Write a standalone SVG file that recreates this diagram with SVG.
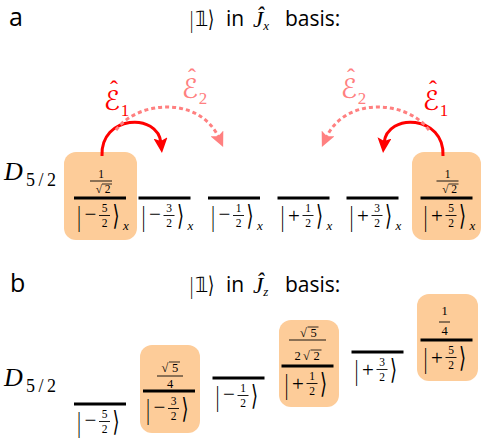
<svg xmlns="http://www.w3.org/2000/svg" width="482" height="447" viewBox="0 0 482 447">
<style>
text{font-family:'Liberation Serif','Times New Roman',serif;fill:#000}
.lvl{stroke:#000;stroke-width:3}
.box{fill:#FDCC99}
.bar{font-size:18px;text-anchor:middle}
.ang{font-family:'DejaVu Sans',sans-serif;font-size:18px;text-anchor:middle}
.sg{font-size:21px;text-anchor:middle}
.fr{font-size:11.5px;text-anchor:middle}
.nf{font-size:12.5px;text-anchor:middle}
.fb{stroke:#000;stroke-width:0.9}
.ov{stroke:#000;stroke-width:0.8}
.sub{font-size:13px;font-style:italic;text-anchor:middle}
.lab{font-family:'Open Sans',sans-serif;font-size:25px}
.tt{font-family:'Open Sans',sans-serif;font-size:21px}
.E{font-family:'DejaVu Serif','DejaVu Sans',serif;font-size:27px;text-anchor:middle}
.hat{font-size:24px;text-anchor:middle}
.Es{font-size:17px;text-anchor:middle}
.e1{fill:#FF0000}
.e2{fill:#FF8080}
</style>
<defs>
<marker id="hr" markerUnits="userSpaceOnUse" markerWidth="16" markerHeight="14" refX="5" refY="7" orient="auto" viewBox="0 0 16 14">
<path d="M0,0 L15,7 L0,14 L3,7 z" fill="#FF0000"/>
</marker>
<marker id="hp" markerUnits="userSpaceOnUse" markerWidth="16" markerHeight="14" refX="5" refY="7" orient="auto" viewBox="0 0 16 14">
<path d="M0,0 L15,7 L0,14 L3,7 z" fill="#FF8080"/>
</marker>
</defs>

<!-- panel labels and titles -->
<g id="label-a"><text class="lab" x="9" y="26">a</text></g>
<g id="title-a">
<text x="191.5" y="0" font-size="16" text-anchor="middle" transform="translate(0,27.5) scale(1,1.55)">|</text>
<text x="201.5" y="26" font-family="DejaVu Sans" font-size="21" text-anchor="middle">𝟙</text>
<text x="211" y="0" font-family="DejaVu Sans" font-size="16" text-anchor="middle" transform="translate(0,26.5) scale(1,1.45)">⟩</text>
<text class="tt" x="226" y="26">in</text>
<text x="253" y="27" font-size="23" font-style="italic">Ĵ<tspan font-size="13" dy="3">x</tspan></text>
<text class="tt" x="285" y="26">basis:</text>
</g>

<g id="label-b"><text class="lab" x="10" y="292">b</text></g>
<g id="title-b">
<text x="191.5" y="0" font-size="16" text-anchor="middle" transform="translate(0,293.5) scale(1,1.55)">|</text>
<text x="201.5" y="292" font-family="DejaVu Sans" font-size="21" text-anchor="middle">𝟙</text>
<text x="211" y="0" font-family="DejaVu Sans" font-size="16" text-anchor="middle" transform="translate(0,292.5) scale(1,1.45)">⟩</text>
<text class="tt" x="226" y="292">in</text>
<text x="253" y="293" font-size="23" font-style="italic">Ĵ<tspan font-size="13" dy="3">z</tspan></text>
<text class="tt" x="285" y="292">basis:</text>
</g>

<g id="D-a"><text x="4" y="180" font-size="26" font-style="italic">D</text><text x="26" y="186" font-size="18" textLength="30">5/2</text></g>
<g id="D-b"><text x="4" y="386" font-size="26" font-style="italic">D</text><text x="26" y="392" font-size="18" textLength="30">5/2</text></g>

<!-- panel a: Jx basis -->
<g id="ax-m52" transform="translate(100,198)">
<rect class="box" x="-36" y="-46" width="73" height="88" rx="12"/>
<text class="fr" x="1" y="-20">1</text>
<line class="fb" x1="-10" x2="12" y1="-17" y2="-17"/>
<text class="fr" x="-1" y="-5">√</text>
<line class="ov" x1="2" x2="12" y1="-14" y2="-14"/>
<text class="fr" x="7.5" y="-5">2</text>
<line class="lvl" x1="-26" x2="26"/>
<text class="bar" transform="translate(-21,27.5) scale(1,1.65)">|</text>
<text class="sg" x="-9.5" y="23">−</text>
<text class="fr" x="4.5" y="14">5</text><line class="fb" x1="-1" x2="10" y1="17.5" y2="17.5"/><text class="fr" x="4.5" y="28.5">2</text>
<text class="ang" transform="translate(16,27) scale(1,1.55)">⟩</text>
<text class="sub" x="26" y="32">x</text>
</g>
<g id="ax-m32" transform="translate(164.5,198)">
<line class="lvl" x1="-26" x2="26"/>
<text class="bar" transform="translate(-21,27.5) scale(1,1.65)">|</text>
<text class="sg" x="-9.5" y="23">−</text>
<text class="fr" x="4.5" y="14">3</text><line class="fb" x1="-1" x2="10" y1="17.5" y2="17.5"/><text class="fr" x="4.5" y="28.5">2</text>
<text class="ang" transform="translate(16,27) scale(1,1.55)">⟩</text>
<text class="sub" x="26" y="32">x</text>
</g>
<g id="ax-m12" transform="translate(234,198)">
<line class="lvl" x1="-26" x2="26"/>
<text class="bar" transform="translate(-21,27.5) scale(1,1.65)">|</text>
<text class="sg" x="-9.5" y="23">−</text>
<text class="fr" x="4.5" y="14">1</text><line class="fb" x1="-1" x2="10" y1="17.5" y2="17.5"/><text class="fr" x="4.5" y="28.5">2</text>
<text class="ang" transform="translate(16,27) scale(1,1.55)">⟩</text>
<text class="sub" x="26" y="32">x</text>
</g>
<g id="ax-p12" transform="translate(303.5,198)">
<line class="lvl" x1="-26" x2="26"/>
<text class="bar" transform="translate(-21,27.5) scale(1,1.65)">|</text>
<text class="sg" x="-9.5" y="24.5">+</text>
<text class="fr" x="4.5" y="14">1</text><line class="fb" x1="-1" x2="10" y1="17.5" y2="17.5"/><text class="fr" x="4.5" y="28.5">2</text>
<text class="ang" transform="translate(16,27) scale(1,1.55)">⟩</text>
<text class="sub" x="26" y="32">x</text>
</g>
<g id="ax-p32" transform="translate(372.5,198)">
<line class="lvl" x1="-26" x2="26"/>
<text class="bar" transform="translate(-21,27.5) scale(1,1.65)">|</text>
<text class="sg" x="-9.5" y="24.5">+</text>
<text class="fr" x="4.5" y="14">3</text><line class="fb" x1="-1" x2="10" y1="17.5" y2="17.5"/><text class="fr" x="4.5" y="28.5">2</text>
<text class="ang" transform="translate(16,27) scale(1,1.55)">⟩</text>
<text class="sub" x="26" y="32">x</text>
</g>
<g id="ax-p52" transform="translate(446.5,198)">
<rect class="box" x="-34.5" y="-46" width="69" height="88" rx="12"/>
<text class="fr" x="1" y="-20">1</text>
<line class="fb" x1="-10" x2="12" y1="-17" y2="-17"/>
<text class="fr" x="-1" y="-5">√</text>
<line class="ov" x1="2" x2="12" y1="-14" y2="-14"/>
<text class="fr" x="7.5" y="-5">2</text>
<line class="lvl" x1="-26" x2="26"/>
<text class="bar" transform="translate(-21,27.5) scale(1,1.65)">|</text>
<text class="sg" x="-9.5" y="24.5">+</text>
<text class="fr" x="4.5" y="14">5</text><line class="fb" x1="-1" x2="10" y1="17.5" y2="17.5"/><text class="fr" x="4.5" y="28.5">2</text>
<text class="ang" transform="translate(16,27) scale(1,1.55)">⟩</text>
<text class="sub" x="26" y="32">x</text>
</g>

<!-- connectors -->
<g id="connectors" fill="none" stroke-width="3">
<path d="M102,156 C100,115 158,112 161,143" stroke="#FF0000" marker-end="url(#hr)"/>
<path d="M443,156 C445,115 387,112 384,143" stroke="#FF0000" marker-end="url(#hr)"/>
<path d="M116,130 C138,100 200,96 219,138" stroke="#FF8080" stroke-dasharray="4 3" marker-end="url(#hp)"/>
<path d="M429,130 C407,100 345,96 326,138" stroke="#FF8080" stroke-dasharray="4 3" marker-end="url(#hp)"/>
</g>
<g id="E1-left"><text class="hat e1" x="114" y="97">ˆ</text><text class="E e1" x="112" y="110">ℰ</text><text class="Es e1" x="125" y="116">1</text></g>
<g id="E2-left"><text class="hat e2" x="192" y="85">ˆ</text><text class="E e2" x="190" y="98">ℰ</text><text class="Es e2" x="203" y="104">2</text></g>
<g id="E2-right"><text class="hat e2" x="351" y="85">ˆ</text><text class="E e2" x="349" y="98">ℰ</text><text class="Es e2" x="362" y="104">2</text></g>
<g id="E1-right"><text class="hat e1" x="433" y="97">ˆ</text><text class="E e1" x="431" y="110">ℰ</text><text class="Es e1" x="444" y="116">1</text></g>

<!-- panel b: Jz basis -->
<g id="bz-m52" transform="translate(100,404)">
<line class="lvl" x1="-26" x2="26"/>
<text class="bar" transform="translate(-21,27.5) scale(1,1.65)">|</text>
<text class="sg" x="-9.5" y="23">−</text>
<text class="fr" x="4.5" y="14">5</text><line class="fb" x1="-1" x2="10" y1="17.5" y2="17.5"/><text class="fr" x="4.5" y="28.5">2</text>
<text class="ang" transform="translate(16,27) scale(1,1.55)">⟩</text>
</g>
<g id="bz-m32" transform="translate(169,391)">
<rect class="box" x="-29" y="-46" width="60" height="88" rx="12"/>
<text class="nf" x="-4" y="-19">√</text>
<line class="ov" x1="0" x2="11" y1="-29" y2="-29"/>
<text class="nf" x="6" y="-19">5</text>
<line class="fb" x1="-12" x2="14" y1="-15" y2="-15"/>
<text class="nf" x="1" y="-3">4</text>
<line class="lvl" x1="-26" x2="26"/>
<text class="bar" transform="translate(-21,27.5) scale(1,1.65)">|</text>
<text class="sg" x="-9.5" y="23">−</text>
<text class="fr" x="4.5" y="14">3</text><line class="fb" x1="-1" x2="10" y1="17.5" y2="17.5"/><text class="fr" x="4.5" y="28.5">2</text>
<text class="ang" transform="translate(16,27) scale(1,1.55)">⟩</text>
</g>
<g id="bz-m12" transform="translate(238.5,378)">
<line class="lvl" x1="-26" x2="26"/>
<text class="bar" transform="translate(-21,27.5) scale(1,1.65)">|</text>
<text class="sg" x="-9.5" y="23">−</text>
<text class="fr" x="4.5" y="14">1</text><line class="fb" x1="-1" x2="10" y1="17.5" y2="17.5"/><text class="fr" x="4.5" y="28.5">2</text>
<text class="ang" transform="translate(16,27) scale(1,1.55)">⟩</text>
</g>
<g id="bz-p12" transform="translate(307.5,366)">
<rect class="box" x="-28.5" y="-46" width="60" height="87" rx="12"/>
<text class="nf" x="-4" y="-29">√</text>
<line class="ov" x1="0" x2="11" y1="-39" y2="-39"/>
<text class="nf" x="6" y="-29">5</text>
<line class="fb" x1="-18.5" x2="18.5" y1="-26" y2="-26"/>
<text class="nf" x="-10" y="-6">2</text>
<text class="nf" x="-1" y="-6">√</text>
<line class="ov" x1="3" x2="14" y1="-16" y2="-16"/>
<text class="nf" x="9" y="-6">2</text>
<line class="lvl" x1="-26" x2="26"/>
<text class="bar" transform="translate(-21,27.5) scale(1,1.65)">|</text>
<text class="sg" x="-9.5" y="24.5">+</text>
<text class="fr" x="4.5" y="14">1</text><line class="fb" x1="-1" x2="10" y1="17.5" y2="17.5"/><text class="fr" x="4.5" y="28.5">2</text>
<text class="ang" transform="translate(16,27) scale(1,1.55)">⟩</text>
</g>
<g id="bz-p32" transform="translate(377.5,352)">
<line class="lvl" x1="-26" x2="26"/>
<text class="bar" transform="translate(-21,27.5) scale(1,1.65)">|</text>
<text class="sg" x="-9.5" y="24.5">+</text>
<text class="fr" x="4.5" y="14">3</text><line class="fb" x1="-1" x2="10" y1="17.5" y2="17.5"/><text class="fr" x="4.5" y="28.5">2</text>
<text class="ang" transform="translate(16,27) scale(1,1.55)">⟩</text>
</g>
<g id="bz-p52" transform="translate(446.5,340)">
<rect class="box" x="-29.5" y="-46" width="61" height="87" rx="12"/>
<text class="nf" x="-2" y="-25">1</text>
<line class="fb" x1="-7.5" x2="3.5" y1="-18" y2="-18"/>
<text class="nf" x="-2" y="-5">4</text>
<line class="lvl" x1="-26" x2="26"/>
<text class="bar" transform="translate(-21,27.5) scale(1,1.65)">|</text>
<text class="sg" x="-9.5" y="24.5">+</text>
<text class="fr" x="4.5" y="14">5</text><line class="fb" x1="-1" x2="10" y1="17.5" y2="17.5"/><text class="fr" x="4.5" y="28.5">2</text>
<text class="ang" transform="translate(16,27) scale(1,1.55)">⟩</text>
</g>
</svg>
